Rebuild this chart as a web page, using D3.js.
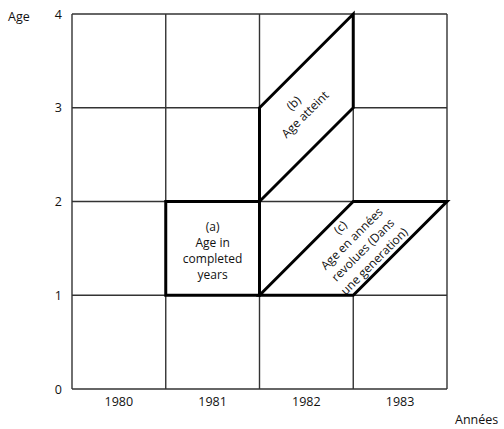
<!DOCTYPE html>
<html>
<head>
<meta charset="utf-8">
<script src="https://cdn.jsdelivr.net/npm/d3@7"></script>
<style>
  html, body { margin: 0; padding: 0; background: #fff; }
  svg { display: block; }
  text { font-family: "Open Sans", "Noto Sans", sans-serif; fill: #111; }
</style>
</head>
<body>
<svg id="chart" width="504" height="429"></svg>
<script>
// ---- data ----
const years = [1980, 1981, 1982, 1983];
const ages = [0, 1, 2, 3, 4];
const shapeA = [[1981, 1], [1981, 2], [1982, 2], [1982, 1]];
const shapeB = [[1982, 2], [1982, 3], [1983, 4], [1983, 3]];
const shapeC = [[1982, 1], [1983, 2], [1984, 2], [1983, 1]];
const labelA = ["(a)", "Age in", "completed", "years"];
const labelB = ["(b)", "Age atteint"];
const labelC = ["(c)", "Age en années", "revolues (Dans", "une generation)"];
const yTitle = "Age";
const xTitle = "Années";

// ---- drawing ----
const FS = 12;
const svg = d3.select("#chart");
const x = d3.scaleLinear().domain([1980, 1984]).range([72, 447]);
const y = d3.scaleLinear().domain([0, 4]).range([389, 14]);

const gridColor = "#333";
// grid: horizontal lines
svg.append("g").selectAll("line").data(ages).join("line")
  .attr("x1", x(1980)).attr("x2", x(1984))
  .attr("y1", d => y(d)).attr("y2", d => y(d))
  .attr("stroke", gridColor).attr("stroke-width", 1.4);
// grid: vertical lines
svg.append("g").selectAll("line").data([1980, 1981, 1982, 1983, 1984]).join("line")
  .attr("x1", d => x(d)).attr("x2", d => x(d))
  .attr("y1", y(0)).attr("y2", y(4))
  .attr("stroke", gridColor).attr("stroke-width", 1.4);

// Axes (labels only)
const yAxis = d3.axisLeft(y).tickValues(ages).tickSize(0).tickPadding(10).tickFormat(d3.format("d"));
const gy = svg.append("g").attr("transform", `translate(${x(1980)},0)`).call(yAxis);
gy.select(".domain").remove();
gy.selectAll("text").style("font-family", '"Open Sans", sans-serif').style("font-size", "12.5px").attr("fill", "#111");

const xb = d3.scaleBand().domain(years).range([x(1980), x(1984)]);
const xAxis = d3.axisBottom(xb).tickSize(0).tickPadding(8);
const gx = svg.append("g").attr("transform", `translate(0,${y(0)})`).call(xAxis);
gx.select(".domain").remove();
gx.selectAll("text").style("font-family", '"Open Sans", sans-serif').style("font-size", "12.5px").attr("fill", "#111");

svg.append("text").attr("x", 8).attr("y", 21).attr("font-size", 12.5).text(yTitle);
svg.append("text").attr("x", 455).attr("y", 424).attr("font-size", 12.5).text(xTitle);

// Bold shapes (white filled: they hide the grid inside them)
const line = d3.line().x(d => x(d[0])).y(d => y(d[1])).curve(d3.curveLinearClosed);
[shapeA, shapeB, shapeC].forEach(s => {
  svg.append("path").attr("d", line(s))
    .attr("fill", "#fff").attr("stroke", "#000").attr("stroke-width", 3)
    .attr("stroke-linejoin", "miter");
});

// Labels: one multi-line text per block
function block(lines, cx, cy, rot, spacing) {
  const n = lines.length;
  const t = svg.append("text")
    .attr("transform", `translate(${cx},${cy}) rotate(${rot})`)
    .attr("text-anchor", "middle")
    .attr("font-size", FS);
  t.selectAll("tspan").data(lines).join("tspan")
    .attr("x", 0)
    .attr("y", (d, i) => (i - (n - 1) / 2) * spacing)
    .attr("dy", "0.35em")
    .text(d => d);
}
const cxA = (x(1981) + x(1982)) / 2, cyA = (y(1) + y(2)) / 2;
block(labelA, cxA, cyA + 2, 0, 16);
const cB = d3.polygonCentroid(shapeB.map(d => [x(d[0]), y(d[1])]));
block(labelB, cB[0] - 7, cB[1] + 1, -45, 16);
const cC = d3.polygonCentroid(shapeC.map(d => [x(d[0]), y(d[1])]));
block(labelC, cC[0] + 4, cC[1] - 4, -45, 16);
</script>
</body>
</html>
